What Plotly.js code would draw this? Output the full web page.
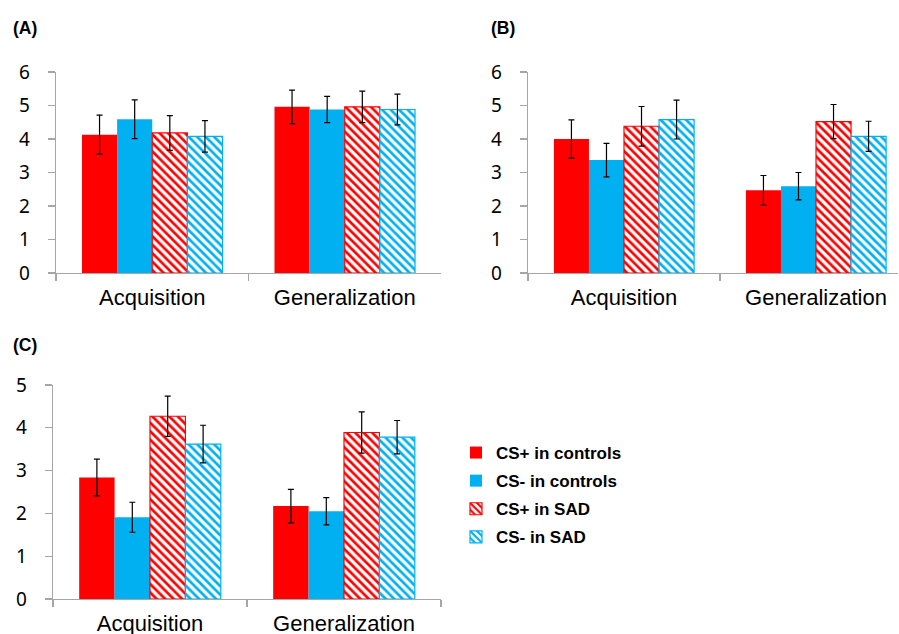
<!DOCTYPE html>
<html>
<head>
<meta charset="utf-8">
<script src="https://cdn.plot.ly/plotly-3.0.1.min.js"></script>
<style>html,body{margin:0;padding:0;background:#fff;}#chart{width:899px;height:634px;}</style>
</head>
<body>
<div id="chart"></div>
<script>
// ---- data ----
var categories = ["Acquisition", "Generalization"];
var seriesNames = ["CS+ in controls", "CS- in controls", "CS+ in SAD", "CS- in SAD"];
var panelLabels = ["(A)", "(B)", "(C)"];

// Panel A
var aCsPlusCtrl = [4.13, 4.96];   var aCsPlusCtrlErr = [0.58, 0.50];
var aCsMinusCtrl = [4.59, 4.88];  var aCsMinusCtrlErr = [0.58, 0.39];
var aCsPlusSad = [4.18, 4.96];    var aCsPlusSadErr = [0.52, 0.47];
var aCsMinusSad = [4.08, 4.88];   var aCsMinusSadErr = [0.47, 0.46];

// Panel B
var bCsPlusCtrl = [4.00, 2.47];   var bCsPlusCtrlErr = [0.57, 0.44];
var bCsMinusCtrl = [3.37, 2.59];  var bCsMinusCtrlErr = [0.50, 0.41];
var bCsPlusSad = [4.38, 4.52];    var bCsPlusSadErr = [0.59, 0.51];
var bCsMinusSad = [4.58, 4.08];   var bCsMinusSadErr = [0.58, 0.45];

// Panel C
var cCsPlusCtrl = [2.84, 2.17];   var cCsPlusCtrlErr = [0.43, 0.39];
var cCsMinusCtrl = [1.91, 2.05];  var cCsMinusCtrlErr = [0.35, 0.32];
var cCsPlusSad = [4.27, 3.89];    var cCsPlusSadErr = [0.47, 0.48];
var cCsMinusSad = [3.62, 3.78];   var cCsMinusSadErr = [0.44, 0.39];

var yTicksAB = [0, 1, 2, 3, 4, 5, 6];
var yTicksC = [0, 1, 2, 3, 4, 5];

// ---- styling ----
var RED = "#FF0000", BLUE = "#00B0F0";
var seriesColors = [RED, BLUE, RED, BLUE];
var seriesHatched = [false, false, true, true];

var panels = [
  {x: "x", y: "y", vals: [aCsPlusCtrl, aCsMinusCtrl, aCsPlusSad, aCsMinusSad],
   errs: [aCsPlusCtrlErr, aCsMinusCtrlErr, aCsPlusSadErr, aCsMinusSadErr], legend: false},
  {x: "x2", y: "y2", vals: [bCsPlusCtrl, bCsMinusCtrl, bCsPlusSad, bCsMinusSad],
   errs: [bCsPlusCtrlErr, bCsMinusCtrlErr, bCsPlusSadErr, bCsMinusSadErr], legend: false},
  {x: "x3", y: "y3", vals: [cCsPlusCtrl, cCsMinusCtrl, cCsPlusSad, cCsMinusSad],
   errs: [cCsPlusCtrlErr, cCsMinusCtrlErr, cCsPlusSadErr, cCsMinusSadErr], legend: true}
];

var traces = [];
panels.forEach(function (p) {
  for (var i = 0; i < 4; i++) {
    var marker = {color: seriesColors[i], line: {width: 0, color: seriesColors[i]}};
    if (seriesHatched[i]) {
      marker.pattern = {shape: "\\", fgcolor: seriesColors[i], bgcolor: "#FFFFFF", size: 6, solidity: 0.45};
      marker.line = {width: 1.2, color: seriesColors[i]};
    }
    traces.push({
      type: "bar", x: categories, y: p.vals[i], name: seriesNames[i],
      xaxis: p.x, yaxis: p.y, marker: marker,
      legendgroup: "g" + i, showlegend: p.legend,
      error_y: {type: "data", array: p.errs[i], visible: true, color: "#000000", thickness: 1.2, width: 3},
      hoverinfo: "skip"
    });
  }
});

var AX = "#A6A6A6";
var tickFont = {family: "Noto Sans, Open Sans, sans-serif", size: 19, color: "#000"};
var catFont = {family: "Liberation Sans, Arial, sans-serif", size: 22, color: "#000"};
var labFont = {family: "Liberation Sans, Arial, sans-serif", size: 17.5, color: "#000"};

function xAxis(domain, anchor, range) {
  return {domain: domain, anchor: anchor, type: "category", range: range,
    showline: true, linecolor: AX, linewidth: 1.3, ticks: "outside", tickson: "boundaries",
    ticklen: 7, tickcolor: AX, tickwidth: 1.3, showgrid: false, zeroline: false,
    tickfont: catFont, ticklabelstandoff: 4, fixedrange: true};
}
function yAxis(domain, anchor, range, ticks) {
  return {domain: domain, anchor: anchor, range: range, tickvals: ticks,
    showline: true, linecolor: AX, linewidth: 1.3, ticks: "outside", ticklen: 7,
    tickcolor: AX, tickwidth: 1.3, showgrid: false, zeroline: false,
    tickfont: tickFont, ticklabelstandoff: 14, fixedrange: true};
}

var W = 899, H = 634;
var layout = {
  width: W, height: H, margin: {l: 0, r: 0, t: 0, b: 0},
  paper_bgcolor: "#FFFFFF", plot_bgcolor: "rgba(0,0,0,0)",
  barmode: "group", bargap: 0.27, bargroupgap: 0,
  xaxis: xAxis([56 / W, 441 / W], "y", [-0.5, 1.5]),
  yaxis: yAxis([1 - 273 / H, 1 - 72 / H], "x", [0, 6], yTicksAB),
  xaxis2: xAxis([528 / W, 898 / W], "y2", [-0.5, 1.427]),
  yaxis2: yAxis([1 - 273 / H, 1 - 72 / H], "x2", [0, 6], yTicksAB),
  xaxis3: xAxis([53 / W, 441 / W], "y3", [-0.5, 1.5]),
  yaxis3: yAxis([1 - 599 / H, 1 - 385 / H], "x3", [0, 5], yTicksC),
  showlegend: true,
  legend: {x: 456 / W, y: 1 - 435 / H, xanchor: "left", yanchor: "top",
    font: {family: "Liberation Sans, Arial, sans-serif", size: 17, color: "#000", weight: "bold"},
    tracegroupgap: 3, bgcolor: "rgba(0,0,0,0)", traceorder: "grouped"},
  annotations: [
    {text: "<b>" + panelLabels[0] + "</b>", xref: "paper", yref: "paper", x: 11 / W, y: 1 - 28 / H,
     xanchor: "left", yanchor: "middle", showarrow: false, font: labFont},
    {text: "<b>" + panelLabels[1] + "</b>", xref: "paper", yref: "paper", x: 489 / W, y: 1 - 28 / H,
     xanchor: "left", yanchor: "middle", showarrow: false, font: labFont},
    {text: "<b>" + panelLabels[2] + "</b>", xref: "paper", yref: "paper", x: 11 / W, y: 1 - 345 / H,
     xanchor: "left", yanchor: "middle", showarrow: false, font: labFont}
  ]
};

Plotly.newPlot("chart", traces, layout, {displayModeBar: false, staticPlot: true});
</script>
</body>
</html>
